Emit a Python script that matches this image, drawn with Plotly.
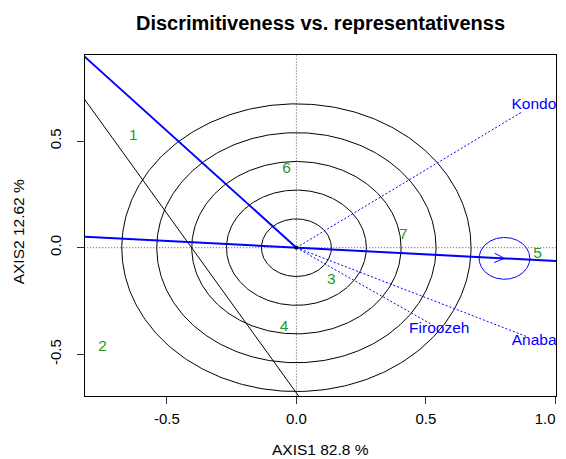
import numpy as np
import plotly.graph_objects as go

# ---------------- data ----------------
geno_labels = ["1", "2", "3", "4", "5", "6", "7"]
geno_x = [-0.630, -0.748, 0.135, -0.048, 0.931, -0.038, 0.413]
geno_y = [0.524, -0.467, -0.151, -0.373, -0.030, 0.368, 0.060]

env_labels = ["Kondo", "Firoozeh", "Anabad"]
env_x = [0.873, 0.525, 0.890]
env_y = [0.638, -0.362, -0.417]

aec_x = 0.803          # average environment coordinate
aec_y = -0.050
aec_radius = 0.098

circle_radii = [0.135, 0.270, 0.404, 0.539, 0.674]

# blue line from the origin to upper left
ul_x = [0.0, -1.0]
ul_y = [0.0, 1.095]
# thin black line
bl_x = [-1.0, 0.1]
bl_y = [1.002, -0.849]

x_ticks = [-0.5, 0.0, 0.5, 1.0]
x_tick_text = ["-0.5", "0.0", "0.5", "1.0"]
y_ticks = [-0.5, 0.0, 0.5]
y_tick_text = ["-0.5", "0.0", "0.5"]

title_text = "Discrimitiveness vs. representativenss"
xlab = "AXIS1 82.8 %"
ylab = "AXIS2 12.62 %"

# ---------------- layout constants ----------------
# the page body has an 8px margin, so the figure is offset by 8px
W, H = 558, 451
ML, MR, MT, MB = 77, 10, 47, 63
PW, PH = W - ML - MR, H - MT - MB
XR = [-0.816, 1.002]
YR = [-0.695, 0.903]
SX = PW / (XR[1] - XR[0])
SY = PH / (YR[1] - YR[0])

FONT = "Liberation Sans, Arial, Helvetica, sans-serif"
BLUE = "#0000FF"
GREEN = "#1f9a1f"

fig = go.Figure()

# dotted reference axes
fig.add_trace(go.Scatter(x=[0, 0], y=[-2, 2], mode="lines",
                         line=dict(color="#555555", width=1, dash="1px,2px"),
                         hoverinfo="skip", showlegend=False))
fig.add_trace(go.Scatter(x=[-2, 2], y=[0, 0], mode="lines",
                         line=dict(color="#555555", width=1, dash="1px,2px"),
                         hoverinfo="skip", showlegend=False))

# concentric circles
t = np.linspace(0, 2 * np.pi, 361)
for r in circle_radii:
    fig.add_trace(go.Scatter(x=r * np.cos(t), y=r * np.sin(t), mode="lines",
                             line=dict(color="black", width=1),
                             hoverinfo="skip", showlegend=False))

# thin black line
fig.add_trace(go.Scatter(x=bl_x, y=bl_y, mode="lines",
                         line=dict(color="black", width=1),
                         hoverinfo="skip", showlegend=False))

# environment vectors (dotted)
for ex, ey in zip(env_x, env_y):
    fig.add_trace(go.Scatter(x=[0, ex], y=[0, ey], mode="lines",
                             line=dict(color=BLUE, width=1, dash="2px,2px"),
                             hoverinfo="skip", showlegend=False))

# AEC abscissa through origin and average environment
m = aec_y / aec_x
fig.add_trace(go.Scatter(x=[-2, 2], y=[-2 * m, 2 * m], mode="lines",
                         line=dict(color=BLUE, width=2),
                         hoverinfo="skip", showlegend=False))
# upper-left blue line
fig.add_trace(go.Scatter(x=ul_x, y=ul_y, mode="lines",
                         line=dict(color=BLUE, width=2),
                         hoverinfo="skip", showlegend=False))

# small circle around the average environment
fig.add_trace(go.Scatter(x=aec_x + aec_radius * np.cos(t), y=aec_y + aec_radius * np.sin(t),
                         mode="lines", line=dict(color=BLUE, width=1),
                         hoverinfo="skip", showlegend=False))

# open arrow head at the average environment
ux, uy = aec_x * SX, aec_y * SY
n = np.hypot(ux, uy)
ux, uy = ux / n, uy / n
L, a = 11, np.deg2rad(25)
hx, hy = [], []
for s in (1, -1):
    rx = ux * np.cos(s * a) - uy * np.sin(s * a)
    ry = ux * np.sin(s * a) + uy * np.cos(s * a)
    hx.append(aec_x - L * rx / SX)
    hy.append(aec_y - L * ry / SY)
fig.add_trace(go.Scatter(x=[hx[0], aec_x, hx[1]], y=[hy[0], aec_y, hy[1]], mode="lines",
                         line=dict(color=BLUE, width=1),
                         hoverinfo="skip", showlegend=False))

# origin dot
fig.add_trace(go.Scatter(x=[0], y=[0], mode="markers",
                         marker=dict(color="black", size=4),
                         hoverinfo="skip", showlegend=False))

# genotype labels
fig.add_trace(go.Scatter(x=geno_x, y=geno_y, mode="text", text=geno_labels,
                         textposition="middle center",
                         textfont=dict(family=FONT, size=15.5, color=GREEN),
                         cliponaxis=True, hoverinfo="skip", showlegend=False))

# environment labels (just beyond the vector ends)
LAB = 1.05
fig.add_trace(go.Scatter(x=[v * LAB for v in env_x], y=[v * LAB for v in env_y],
                         mode="text", text=env_labels, textposition="middle center",
                         textfont=dict(family=FONT, size=15.5, color=BLUE),
                         cliponaxis=True, hoverinfo="skip", showlegend=False))

axis_common = dict(showgrid=False, zeroline=False, showline=True, mirror=True,
                   linecolor="black", linewidth=1, ticks="outside", ticklen=7,
                   tickwidth=1, tickcolor="#333333",
                   tickfont=dict(family=FONT, size=15, color="black"))

# keep the last x tick label inside the visible window
shown_x_text = list(x_tick_text)
shown_x_text[-1] = shown_x_text[-1] + "\u00a0" * 5

fig.update_layout(
    width=W, height=H,
    margin=dict(l=ML, r=MR, t=MT, b=MB, autoexpand=False),
    paper_bgcolor="white", plot_bgcolor="white",
    showlegend=False,
    title=dict(text="<b>" + title_text + "</b>", x=0.5, xref="paper", xanchor="center",
               y=1 - 15 / H, yref="container", yanchor="middle",
               font=dict(family=FONT, size=20, color="black")),
    xaxis=dict(range=XR, tickvals=x_ticks, ticktext=shown_x_text, ticklabelstandoff=2,
               ticklabeloverflow="allow", **axis_common),
    yaxis=dict(range=YR, tickvals=y_ticks, ticktext=y_tick_text, tickangle=-90,
               ticklabelstandoff=10, **axis_common),
    annotations=[
        dict(text=xlab, xref="paper", yref="paper", x=0.5, y=-(441 - (H - MB)) / PH,
             xanchor="center", yanchor="middle", showarrow=False,
             font=dict(family=FONT, size=15.5, color="black")),
        dict(text=ylab, xref="paper", yref="paper", x=(10 - ML) / PW, y=0.48,
             xanchor="center", yanchor="middle", textangle=-90, showarrow=False,
             font=dict(family=FONT, size=15.5, color="black")),
    ],
)

fig.write_html("out.html")
